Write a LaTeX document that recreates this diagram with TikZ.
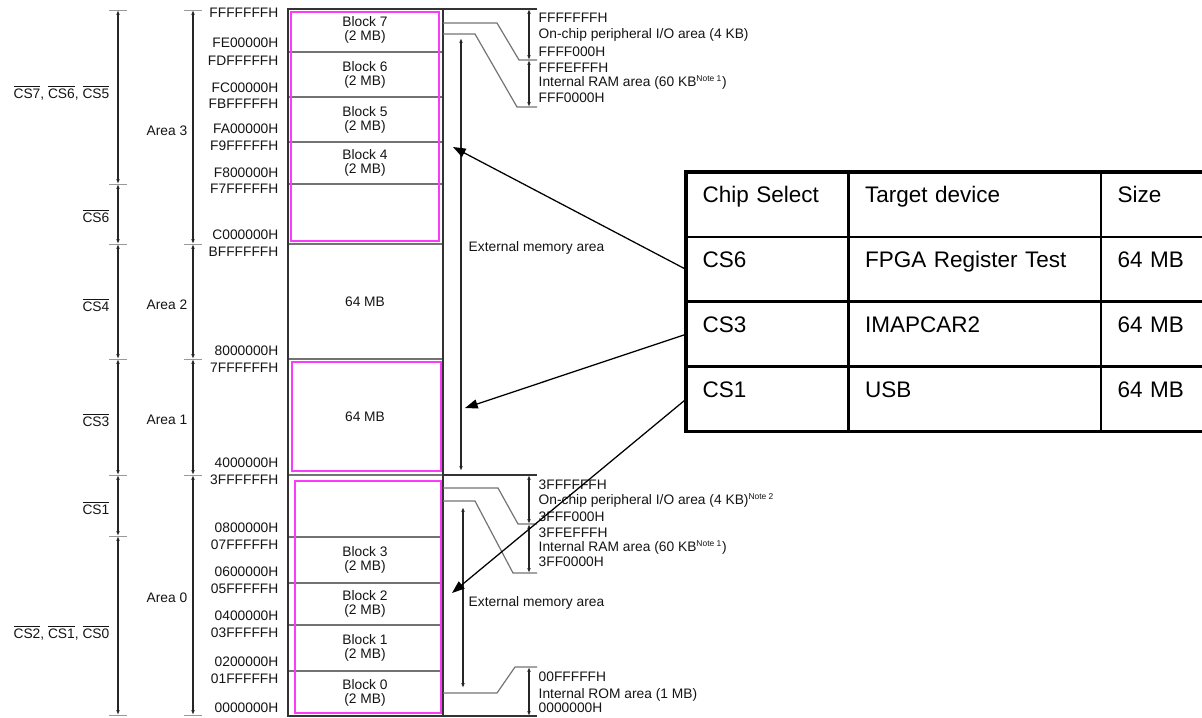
\documentclass[tikz,border=0pt]{standalone}
\usepackage{fontspec}
\setmainfont{Liberation Sans}
\usetikzlibrary{arrows.meta,positioning}

\definecolor{csmagenta}{RGB}{250,60,250}
\newcommand{\csn}[1]{$\overline{\mbox{#1}}$}
\newcommand{\notemark}[1]{\textsuperscript{\fontsize{6}{6}\selectfont #1}}

\begin{document}
\begin{tikzpicture}[x=0.025cm,y=-0.025cm]

\tikzset{
  smalltext/.style={
    font=\fontsize{9.8}{9.5}\selectfont,
    text=black!92,
    inner sep=1pt
  },
  addr/.style={
    smalltext,
    text height=7pt,
    text depth=0pt
  },
  blocktext/.style={
    smalltext,
    align=center
  },
  mapframe/.style={
    draw=black!80,
    line width=0.85pt
  },
  blockline/.style={
    draw=black!55,
    line width=0.85pt
  },
  cselbox/.style={
    draw=csmagenta,
    line width=1.1pt
  },
  tickmark/.style={
    draw=black!40,
    line width=0.7pt
  },
  dimarrow/.style={
    {Latex[length=3.5pt,width=2.6pt]}-{Latex[length=3.5pt,width=2.6pt]},
    draw=black!85,
    line width=0.85pt
  },
  pointer/.style={
    -{Triangle[length=9pt,width=6.5pt]},
    draw=black,
    line width=0.9pt
  },
  cell/.style={
    draw=black,
    line width=1pt,
    anchor=north west,
    font=\fontsize{16}{18}\selectfont,
    align=left,
    inner xsep=0.4cm,
    inner ysep=0pt,
    text height=0.75cm,
    text depth=0.8375cm
  },
  colA/.style={text width=3.225cm},
  colB/.style={text width=5.475cm},
  colC/.style={text width=1.75cm},
  tableframe/.style={
    draw=black,
    line width=2.2pt
  }
}

\useasboundingbox (0,0) rectangle (1202,717);

%%%%%%%%%%%%%%%%%%%%%%%%%%%%%%%%%%%%%%%%%%%%%%%%%%%%%%%%%%%%
%% Chip select and area ranges
%%%%%%%%%%%%%%%%%%%%%%%%%%%%%%%%%%%%%%%%%%%%%%%%%%%%%%%%%%%%

% Chip select ticks
\foreach \y [count=\i] in {10,184,244,359,475,536,715}{
  \coordinate (csT\i) at (118,\y);
  \draw[tickmark] (109,\y)--(127,\y);
}
\foreach \a/\b in {1/2,2/3,3/4,4/5,5/6,6/7}{
  \draw[dimarrow] (csT\a)--(csT\b);
}

% Area ticks
\foreach \y [count=\i] in {10,244,359,475,715}{
  \coordinate (arT\i) at (193,\y);
  \draw[tickmark] (184,\y)--(202,\y);
}
\foreach \a/\b in {1/2,2/3,3/4,4/5}{
  \draw[dimarrow] (arT\a)--(arT\b);
}

% Chip select labels
\node[smalltext, anchor=east] (cs765) at (111,93)
  {\csn{CS7}, \csn{CS6}, \csn{CS5}};
\node[smalltext, anchor=east] (cs6) at (111,216) {\csn{CS6}};
\node[smalltext, anchor=east] (cs4) at (111,305) {\csn{CS4}};
\node[smalltext, anchor=east] (cs3) at (111,420) {\csn{CS3}};
\node[smalltext, anchor=east] (cs1) at (111,508) {\csn{CS1}};
\node[smalltext, anchor=east] (cs210) at (111,633)
  {\csn{CS2}, \csn{CS1}, \csn{CS0}};

% Area labels
\foreach \y/\n in {131/3,305/2,420/1,598/0}{
  \node[smalltext, anchor=east] (area\n) at (189,\y) {Area \n};
}

% Addresses
\foreach \y/\a in {13/FFFFFFFH, 43/FE00000H, 61/FDFFFFFH, 88/FC00000H,
  104/FBFFFFFH, 129/FA00000H, 146/F9FFFFFH, 173/F800000H, 189/F7FFFFFH,
  235/C000000H, 252/BFFFFFFH, 351/8000000H, 368/7FFFFFFH, 463/4000000H,
  480/3FFFFFFH, 528/0800000H, 545/07FFFFFH, 572/0600000H, 589/05FFFFFH,
  616/0400000H, 633/03FFFFFH, 662/0200000H, 679/01FFFFFH, 708/0000000H}{
  \node[addr, anchor=east] (adr\y) at (280,\y) {\a};
}

%%%%%%%%%%%%%%%%%%%%%%%%%%%%%%%%%%%%%%%%%%%%%%%%%%%%%%%%%%%%
%% Memory map
%%%%%%%%%%%%%%%%%%%%%%%%%%%%%%%%%%%%%%%%%%%%%%%%%%%%%%%%%%%%

% Block borders
\foreach \y in {52,97,142,184,244,359,475,537,583,625,671}{
  \draw[blockline] (288,\y)--(443,\y);
}

% Outer box
\draw[mapframe] (288,9) rectangle (443,716);

% Used chip select areas
\draw[cselbox] (291,12) rectangle (439,241);
\draw[cselbox] (292,362) rectangle (441,471);
\draw[cselbox] (295,481) rectangle (441,713);

% Block labels
\foreach \y/\n in {30/7,75/6,120/5,163/4,560/3,604/2,648/1,693/0}{
  \node[blocktext] (blk\n) at (365,\y) {Block \n\\(2 MB)};
}
\node[blocktext] (area2mb) at (365,302) {64 MB};
\node[blocktext] (area1mb) at (365,417) {64 MB};

%%%%%%%%%%%%%%%%%%%%%%%%%%%%%%%%%%%%%%%%%%%%%%%%%%%%%%%%%%%%
%% Internal areas
%%%%%%%%%%%%%%%%%%%%%%%%%%%%%%%%%%%%%%%%%%%%%%%%%%%%%%%%%%%%

% Upper I/O and RAM
\draw[mapframe] (443,9)--(537,9);
\draw[blockline] (443,23)--(497,23)--(519,60)--(537,60);
\draw[blockline] (443,34)--(475,34)--(517,107)--(537,107);
\coordinate (uA) at (529,9);
\coordinate (uB) at (529,60);
\coordinate (uC) at (529,107);
\draw[dimarrow] (uA)--(uB);
\draw[dimarrow] (uB)--(uC);

\node[addr, anchor=west] (uIOtop) at (537,18) {FFFFFFFH};
\node[addr, anchor=west] (uIO) at (537,34)
  {On-chip peripheral I/O area (4 KB)};
\node[addr, anchor=west] (uIObot) at (537,52) {FFFF000H};
\node[addr, anchor=west] (uRAMtop) at (537,68) {FFFEFFFH};
\node[addr, anchor=west] (uRAM) at (537,82)
  {Internal RAM area (60 KB\notemark{Note 1})};
\node[addr, anchor=west] (uRAMbot) at (537,98) {FFF0000H};

% Upper external memory
\coordinate (uExtA) at (461,38);
\coordinate (uExtB) at (461,471);
\draw[dimarrow] (uExtA)--(uExtB);
\node[addr, anchor=west] (uExt) at (467,247) {External memory area};

% Lower I/O and RAM
\draw[mapframe] (443,475)--(537,475);
\draw[blockline] (443,488)--(498,488)--(518,524)--(537,524);
\draw[blockline] (443,501)--(475,501)--(513,573)--(537,573);
\coordinate (lA) at (529,475);
\coordinate (lB) at (529,524);
\coordinate (lC) at (529,573);
\draw[dimarrow] (lA)--(lB);
\draw[dimarrow] (lB)--(lC);

\node[addr, anchor=west] (lIOtop) at (537,485) {3FFFFFFH};
\node[addr, anchor=west] (lIO) at (537,500)
  {On-chip peripheral I/O area (4 KB)\notemark{Note 2}};
\node[addr, anchor=west] (lIObot) at (537,517) {3FFF000H};
\node[addr, anchor=west] (lRAMtop) at (537,533) {3FFEFFFH};
\node[addr, anchor=west] (lRAM) at (537,547)
  {Internal RAM area (60 KB\notemark{Note 1})};
\node[addr, anchor=west] (lRAMbot) at (537,562) {3FF0000H};

% Lower external memory
\coordinate (lExtA) at (463,507);
\coordinate (lExtB) at (463,688);
\draw[dimarrow] (lExtA)--(lExtB);
\node[addr, anchor=west] (lExt) at (467,602) {External memory area};

% Internal ROM
\draw[mapframe] (443,716)--(537,716);
\draw[blockline] (443,693)--(497,693)--(515,667)--(537,667);
\coordinate (rA) at (529,667);
\coordinate (rB) at (529,716);
\draw[dimarrow] (rA)--(rB);
\node[addr, anchor=west] (romtop) at (537,677) {00FFFFFH};
\node[addr, anchor=west] (rom) at (537,694) {Internal ROM area (1 MB)};
\node[addr, anchor=west] (rombot) at (537,708) {0000000H};

%%%%%%%%%%%%%%%%%%%%%%%%%%%%%%%%%%%%%%%%%%%%%%%%%%%%%%%%%%%%
%% Chip select table
%%%%%%%%%%%%%%%%%%%%%%%%%%%%%%%%%%%%%%%%%%%%%%%%%%%%%%%%%%%%

\node[cell,colA] (c11) at (686,172) {Chip Select};
\node[cell,colB] (c12) at (c11.north east) {Target device};
\node[cell,colC] (c13) at (c12.north east) {Size};

\node[cell,colA] (c21) at (c11.south west) {CS6};
\node[cell,colB] (c22) at (c21.north east) {FPGA Register Test};
\node[cell,colC] (c23) at (c22.north east) {64 MB};

\node[cell,colA] (c31) at (c21.south west) {CS3};
\node[cell,colB] (c32) at (c31.north east) {IMAPCAR2};
\node[cell,colC] (c33) at (c32.north east) {64 MB};

\node[cell,colA] (c41) at (c31.south west) {CS1};
\node[cell,colB] (c42) at (c41.north east) {USB};
\node[cell,colC] (c43) at (c42.north east) {64 MB};

\draw[tableframe] (c11.north west) rectangle (c43.south east);

% Pointers into the map
\coordinate (tipA) at (453,147);
\coordinate (tipB) at (465,408);
\coordinate (tipC) at (452,593);
\draw[pointer] (c21.west)--(tipA);
\draw[pointer] (c31.west)--(tipB);
\draw[pointer] (c41.west)--(tipC);

\end{tikzpicture}
\end{document}
